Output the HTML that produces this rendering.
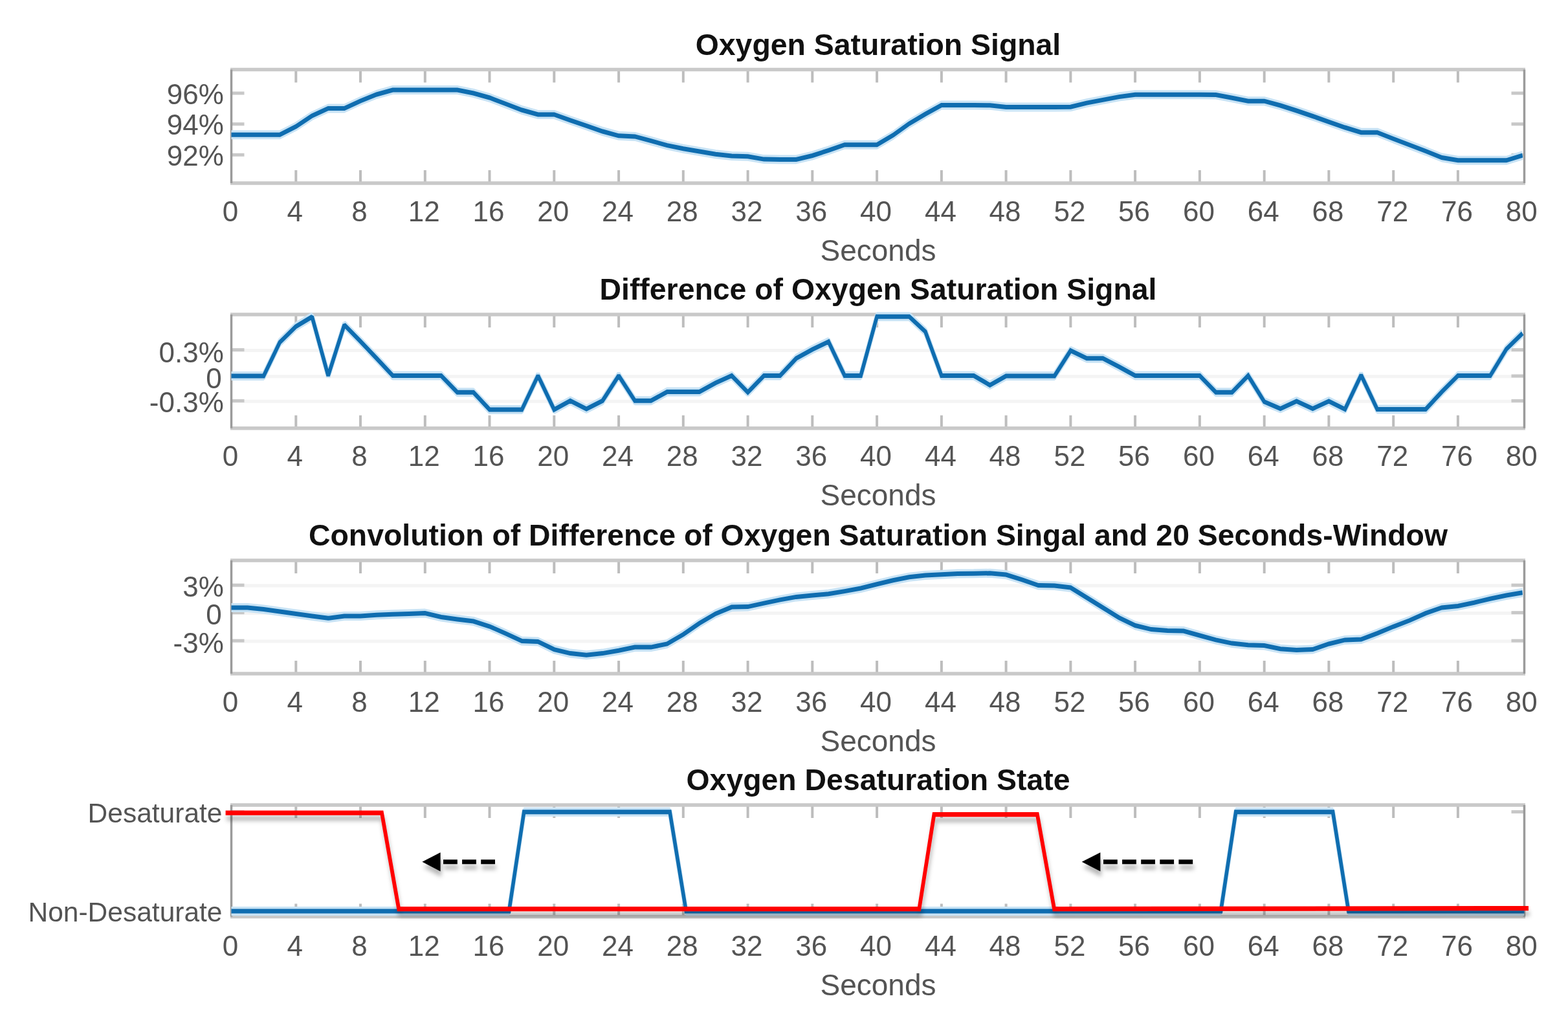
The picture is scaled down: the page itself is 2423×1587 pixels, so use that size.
<!DOCTYPE html>
<html><head><meta charset="utf-8"><title>Oxygen Saturation Signal</title>
<style>
html,body{margin:0;padding:0;background:#fff;width:2423px;height:1587px;overflow:hidden}
svg{display:block}
text{font-family:"Liberation Sans",Arial,Helvetica,sans-serif}
.tl{font-size:44px;fill:#545454}
.xl{font-size:46px;fill:#545454}
.tt{font-size:46.4px;font-weight:bold;fill:#111}
</style></head><body>
<svg width="2423" height="1587" viewBox="0 0 2423 1587">
<defs><clipPath id="c0"><rect x="351.5" y="101.5" width="2010.0" height="187.5"/></clipPath><clipPath id="c1"><rect x="351.5" y="480.0" width="2010.0" height="187.8"/></clipPath><clipPath id="c2"><rect x="351.5" y="860.0" width="2010.0" height="187.0"/></clipPath>
<filter id="sh" x="-10%" y="-50%" width="120%" height="200%"><feDropShadow dx="1.5" dy="8.5" stdDeviation="3.2" flood-color="#000" flood-opacity="0.28"/></filter>
</defs>
<rect width="2423" height="1587" fill="#fff"/>
<text class="tt" x="1357" y="84.9" text-anchor="middle">Oxygen Saturation Signal</text>
<line x1="457.3" y1="283.0" x2="457.3" y2="263.0" stroke="#bdbdbd" stroke-width="4"/>
<line x1="457.3" y1="107.5" x2="457.3" y2="127.5" stroke="#bdbdbd" stroke-width="4"/>
<line x1="557.0" y1="283.0" x2="557.0" y2="263.0" stroke="#bdbdbd" stroke-width="4"/>
<line x1="557.0" y1="107.5" x2="557.0" y2="127.5" stroke="#bdbdbd" stroke-width="4"/>
<line x1="656.8" y1="283.0" x2="656.8" y2="263.0" stroke="#bdbdbd" stroke-width="4"/>
<line x1="656.8" y1="107.5" x2="656.8" y2="127.5" stroke="#bdbdbd" stroke-width="4"/>
<line x1="756.5" y1="283.0" x2="756.5" y2="263.0" stroke="#bdbdbd" stroke-width="4"/>
<line x1="756.5" y1="107.5" x2="756.5" y2="127.5" stroke="#bdbdbd" stroke-width="4"/>
<line x1="856.3" y1="283.0" x2="856.3" y2="263.0" stroke="#bdbdbd" stroke-width="4"/>
<line x1="856.3" y1="107.5" x2="856.3" y2="127.5" stroke="#bdbdbd" stroke-width="4"/>
<line x1="956.1" y1="283.0" x2="956.1" y2="263.0" stroke="#bdbdbd" stroke-width="4"/>
<line x1="956.1" y1="107.5" x2="956.1" y2="127.5" stroke="#bdbdbd" stroke-width="4"/>
<line x1="1055.8" y1="283.0" x2="1055.8" y2="263.0" stroke="#bdbdbd" stroke-width="4"/>
<line x1="1055.8" y1="107.5" x2="1055.8" y2="127.5" stroke="#bdbdbd" stroke-width="4"/>
<line x1="1155.6" y1="283.0" x2="1155.6" y2="263.0" stroke="#bdbdbd" stroke-width="4"/>
<line x1="1155.6" y1="107.5" x2="1155.6" y2="127.5" stroke="#bdbdbd" stroke-width="4"/>
<line x1="1255.3" y1="283.0" x2="1255.3" y2="263.0" stroke="#bdbdbd" stroke-width="4"/>
<line x1="1255.3" y1="107.5" x2="1255.3" y2="127.5" stroke="#bdbdbd" stroke-width="4"/>
<line x1="1355.1" y1="283.0" x2="1355.1" y2="263.0" stroke="#bdbdbd" stroke-width="4"/>
<line x1="1355.1" y1="107.5" x2="1355.1" y2="127.5" stroke="#bdbdbd" stroke-width="4"/>
<line x1="1454.9" y1="283.0" x2="1454.9" y2="263.0" stroke="#bdbdbd" stroke-width="4"/>
<line x1="1454.9" y1="107.5" x2="1454.9" y2="127.5" stroke="#bdbdbd" stroke-width="4"/>
<line x1="1554.6" y1="283.0" x2="1554.6" y2="263.0" stroke="#bdbdbd" stroke-width="4"/>
<line x1="1554.6" y1="107.5" x2="1554.6" y2="127.5" stroke="#bdbdbd" stroke-width="4"/>
<line x1="1654.4" y1="283.0" x2="1654.4" y2="263.0" stroke="#bdbdbd" stroke-width="4"/>
<line x1="1654.4" y1="107.5" x2="1654.4" y2="127.5" stroke="#bdbdbd" stroke-width="4"/>
<line x1="1754.1" y1="283.0" x2="1754.1" y2="263.0" stroke="#bdbdbd" stroke-width="4"/>
<line x1="1754.1" y1="107.5" x2="1754.1" y2="127.5" stroke="#bdbdbd" stroke-width="4"/>
<line x1="1853.9" y1="283.0" x2="1853.9" y2="263.0" stroke="#bdbdbd" stroke-width="4"/>
<line x1="1853.9" y1="107.5" x2="1853.9" y2="127.5" stroke="#bdbdbd" stroke-width="4"/>
<line x1="1953.7" y1="283.0" x2="1953.7" y2="263.0" stroke="#bdbdbd" stroke-width="4"/>
<line x1="1953.7" y1="107.5" x2="1953.7" y2="127.5" stroke="#bdbdbd" stroke-width="4"/>
<line x1="2053.4" y1="283.0" x2="2053.4" y2="263.0" stroke="#bdbdbd" stroke-width="4"/>
<line x1="2053.4" y1="107.5" x2="2053.4" y2="127.5" stroke="#bdbdbd" stroke-width="4"/>
<line x1="2153.2" y1="283.0" x2="2153.2" y2="263.0" stroke="#bdbdbd" stroke-width="4"/>
<line x1="2153.2" y1="107.5" x2="2153.2" y2="127.5" stroke="#bdbdbd" stroke-width="4"/>
<line x1="2252.9" y1="283.0" x2="2252.9" y2="263.0" stroke="#bdbdbd" stroke-width="4"/>
<line x1="2252.9" y1="107.5" x2="2252.9" y2="127.5" stroke="#bdbdbd" stroke-width="4"/>
<line x1="357.5" y1="144.0" x2="377.5" y2="144.0" stroke="#c8c8c8" stroke-width="5"/>
<line x1="2335.5" y1="144.0" x2="2355.5" y2="144.0" stroke="#c8c8c8" stroke-width="5"/>
<line x1="357.5" y1="191.7" x2="377.5" y2="191.7" stroke="#c8c8c8" stroke-width="5"/>
<line x1="2335.5" y1="191.7" x2="2355.5" y2="191.7" stroke="#c8c8c8" stroke-width="5"/>
<line x1="357.5" y1="239.3" x2="377.5" y2="239.3" stroke="#c8c8c8" stroke-width="5"/>
<line x1="2335.5" y1="239.3" x2="2355.5" y2="239.3" stroke="#c8c8c8" stroke-width="5"/>
<line x1="356.0" y1="107.5" x2="2357.0" y2="107.5" stroke="#c9c9c9" stroke-width="5.5"/>
<line x1="356.0" y1="283.0" x2="2357.0" y2="283.0" stroke="#c9c9c9" stroke-width="5.5"/>
<line x1="357.5" y1="107.5" x2="357.5" y2="283.0" stroke="#9b9b9b" stroke-width="3.5"/>
<line x1="2355.5" y1="107.5" x2="2355.5" y2="283.0" stroke="#9b9b9b" stroke-width="3.5"/>
<g clip-path="url(#c0)">
<polyline transform="scale(1,2.0000)" points="357.50,104.10 382.44,104.10 407.38,104.10 432.32,104.10 457.26,97.75 482.20,89.50 507.14,83.75 532.08,83.75 557.02,78.00 581.96,73.00 606.90,69.50 631.84,69.50 656.78,69.50 681.72,69.50 706.66,69.50 731.60,72.00 756.54,75.50 781.48,80.25 806.42,85.00 831.36,88.50 856.30,88.50 881.24,92.90 906.18,97.20 931.12,101.50 956.06,104.90 981.00,105.45 1005.94,108.85 1030.88,112.30 1055.82,114.85 1080.76,117.00 1105.70,119.15 1130.64,120.45 1155.58,120.90 1180.52,123.05 1205.46,123.20 1230.40,123.20 1255.34,120.25 1280.28,116.15 1305.22,111.85 1330.16,111.85 1355.10,111.85 1380.04,104.50 1404.98,95.50 1429.92,88.15 1454.86,81.25 1479.80,81.25 1504.74,81.25 1529.68,81.40 1554.62,82.75 1579.56,82.75 1604.50,82.75 1629.44,82.75 1654.38,82.65 1679.32,79.55 1704.26,77.20 1729.20,74.80 1754.14,73.10 1779.08,73.10 1804.02,73.10 1828.96,73.10 1853.90,73.10 1878.84,73.25 1903.78,75.65 1928.72,78.10 1953.66,78.10 1978.60,81.50 2003.54,85.50 2028.48,89.75 2053.42,94.20 2078.36,98.50 2103.30,102.35 2128.24,102.35 2153.18,107.25 2178.12,112.00 2203.06,116.75 2228.00,121.75 2252.94,123.90 2277.88,123.90 2302.82,123.90 2327.76,123.90 2352.70,120.05" fill="none" stroke="#c8e3f5" stroke-width="7.00" stroke-linejoin="bevel" stroke-miterlimit="1.5"/>
<polyline transform="scale(1,1.2500)" points="357.50,166.56 382.44,166.56 407.38,166.56 432.32,166.56 457.26,156.40 482.20,143.20 507.14,134.00 532.08,134.00 557.02,124.80 581.96,116.80 606.90,111.20 631.84,111.20 656.78,111.20 681.72,111.20 706.66,111.20 731.60,115.20 756.54,120.80 781.48,128.40 806.42,136.00 831.36,141.60 856.30,141.60 881.24,148.64 906.18,155.52 931.12,162.40 956.06,167.84 981.00,168.72 1005.94,174.16 1030.88,179.68 1055.82,183.76 1080.76,187.20 1105.70,190.64 1130.64,192.72 1155.58,193.44 1180.52,196.88 1205.46,197.12 1230.40,197.12 1255.34,192.40 1280.28,185.84 1305.22,178.96 1330.16,178.96 1355.10,178.96 1380.04,167.20 1404.98,152.80 1429.92,141.04 1454.86,130.00 1479.80,130.00 1504.74,130.00 1529.68,130.24 1554.62,132.40 1579.56,132.40 1604.50,132.40 1629.44,132.40 1654.38,132.24 1679.32,127.28 1704.26,123.52 1729.20,119.68 1754.14,116.96 1779.08,116.96 1804.02,116.96 1828.96,116.96 1853.90,116.96 1878.84,117.20 1903.78,121.04 1928.72,124.96 1953.66,124.96 1978.60,130.40 2003.54,136.80 2028.48,143.60 2053.42,150.72 2078.36,157.60 2103.30,163.76 2128.24,163.76 2153.18,171.60 2178.12,179.20 2203.06,186.80 2228.00,194.80 2252.94,198.24 2277.88,198.24 2302.82,198.24 2327.76,198.24 2352.70,192.08" fill="none" stroke="#0f6db0" stroke-width="5.60" stroke-linejoin="miter" stroke-miterlimit="1.5"/>
</g>
<g class="tl" text-anchor="end">
<text x="345.8" y="160.5">96%</text>
<text x="345.8" y="208.2">94%</text>
<text x="345.8" y="255.8">92%</text>
</g>
<g class="tl" text-anchor="middle">
<text x="356.0" y="341.5">0</text>
<text x="455.8" y="341.5">4</text>
<text x="555.5" y="341.5">8</text>
<text x="655.3" y="341.5">12</text>
<text x="755.0" y="341.5">16</text>
<text x="854.8" y="341.5">20</text>
<text x="954.6" y="341.5">24</text>
<text x="1054.3" y="341.5">28</text>
<text x="1154.1" y="341.5">32</text>
<text x="1253.8" y="341.5">36</text>
<text x="1353.6" y="341.5">40</text>
<text x="1453.4" y="341.5">44</text>
<text x="1553.1" y="341.5">48</text>
<text x="1652.9" y="341.5">52</text>
<text x="1752.6" y="341.5">56</text>
<text x="1852.4" y="341.5">60</text>
<text x="1952.2" y="341.5">64</text>
<text x="2051.9" y="341.5">68</text>
<text x="2151.7" y="341.5">72</text>
<text x="2251.4" y="341.5">76</text>
<text x="2351.2" y="341.5">80</text>
</g>
<text class="xl" x="1357" y="402.5" text-anchor="middle">Seconds</text>
<text class="tt" x="1357" y="463.4" text-anchor="middle">Difference of Oxygen Saturation Signal</text>
<line x1="357.5" y1="541.4" x2="2355.5" y2="541.4" stroke="#f4f4f4" stroke-width="5"/>
<line x1="357.5" y1="581.8" x2="2355.5" y2="581.8" stroke="#f4f4f4" stroke-width="5"/>
<line x1="357.5" y1="620.2" x2="2355.5" y2="620.2" stroke="#f4f4f4" stroke-width="5"/>
<line x1="457.3" y1="661.8" x2="457.3" y2="641.8" stroke="#bdbdbd" stroke-width="4"/>
<line x1="457.3" y1="486.0" x2="457.3" y2="506.0" stroke="#bdbdbd" stroke-width="4"/>
<line x1="557.0" y1="661.8" x2="557.0" y2="641.8" stroke="#bdbdbd" stroke-width="4"/>
<line x1="557.0" y1="486.0" x2="557.0" y2="506.0" stroke="#bdbdbd" stroke-width="4"/>
<line x1="656.8" y1="661.8" x2="656.8" y2="641.8" stroke="#bdbdbd" stroke-width="4"/>
<line x1="656.8" y1="486.0" x2="656.8" y2="506.0" stroke="#bdbdbd" stroke-width="4"/>
<line x1="756.5" y1="661.8" x2="756.5" y2="641.8" stroke="#bdbdbd" stroke-width="4"/>
<line x1="756.5" y1="486.0" x2="756.5" y2="506.0" stroke="#bdbdbd" stroke-width="4"/>
<line x1="856.3" y1="661.8" x2="856.3" y2="641.8" stroke="#bdbdbd" stroke-width="4"/>
<line x1="856.3" y1="486.0" x2="856.3" y2="506.0" stroke="#bdbdbd" stroke-width="4"/>
<line x1="956.1" y1="661.8" x2="956.1" y2="641.8" stroke="#bdbdbd" stroke-width="4"/>
<line x1="956.1" y1="486.0" x2="956.1" y2="506.0" stroke="#bdbdbd" stroke-width="4"/>
<line x1="1055.8" y1="661.8" x2="1055.8" y2="641.8" stroke="#bdbdbd" stroke-width="4"/>
<line x1="1055.8" y1="486.0" x2="1055.8" y2="506.0" stroke="#bdbdbd" stroke-width="4"/>
<line x1="1155.6" y1="661.8" x2="1155.6" y2="641.8" stroke="#bdbdbd" stroke-width="4"/>
<line x1="1155.6" y1="486.0" x2="1155.6" y2="506.0" stroke="#bdbdbd" stroke-width="4"/>
<line x1="1255.3" y1="661.8" x2="1255.3" y2="641.8" stroke="#bdbdbd" stroke-width="4"/>
<line x1="1255.3" y1="486.0" x2="1255.3" y2="506.0" stroke="#bdbdbd" stroke-width="4"/>
<line x1="1355.1" y1="661.8" x2="1355.1" y2="641.8" stroke="#bdbdbd" stroke-width="4"/>
<line x1="1355.1" y1="486.0" x2="1355.1" y2="506.0" stroke="#bdbdbd" stroke-width="4"/>
<line x1="1454.9" y1="661.8" x2="1454.9" y2="641.8" stroke="#bdbdbd" stroke-width="4"/>
<line x1="1454.9" y1="486.0" x2="1454.9" y2="506.0" stroke="#bdbdbd" stroke-width="4"/>
<line x1="1554.6" y1="661.8" x2="1554.6" y2="641.8" stroke="#bdbdbd" stroke-width="4"/>
<line x1="1554.6" y1="486.0" x2="1554.6" y2="506.0" stroke="#bdbdbd" stroke-width="4"/>
<line x1="1654.4" y1="661.8" x2="1654.4" y2="641.8" stroke="#bdbdbd" stroke-width="4"/>
<line x1="1654.4" y1="486.0" x2="1654.4" y2="506.0" stroke="#bdbdbd" stroke-width="4"/>
<line x1="1754.1" y1="661.8" x2="1754.1" y2="641.8" stroke="#bdbdbd" stroke-width="4"/>
<line x1="1754.1" y1="486.0" x2="1754.1" y2="506.0" stroke="#bdbdbd" stroke-width="4"/>
<line x1="1853.9" y1="661.8" x2="1853.9" y2="641.8" stroke="#bdbdbd" stroke-width="4"/>
<line x1="1853.9" y1="486.0" x2="1853.9" y2="506.0" stroke="#bdbdbd" stroke-width="4"/>
<line x1="1953.7" y1="661.8" x2="1953.7" y2="641.8" stroke="#bdbdbd" stroke-width="4"/>
<line x1="1953.7" y1="486.0" x2="1953.7" y2="506.0" stroke="#bdbdbd" stroke-width="4"/>
<line x1="2053.4" y1="661.8" x2="2053.4" y2="641.8" stroke="#bdbdbd" stroke-width="4"/>
<line x1="2053.4" y1="486.0" x2="2053.4" y2="506.0" stroke="#bdbdbd" stroke-width="4"/>
<line x1="2153.2" y1="661.8" x2="2153.2" y2="641.8" stroke="#bdbdbd" stroke-width="4"/>
<line x1="2153.2" y1="486.0" x2="2153.2" y2="506.0" stroke="#bdbdbd" stroke-width="4"/>
<line x1="2252.9" y1="661.8" x2="2252.9" y2="641.8" stroke="#bdbdbd" stroke-width="4"/>
<line x1="2252.9" y1="486.0" x2="2252.9" y2="506.0" stroke="#bdbdbd" stroke-width="4"/>
<line x1="357.5" y1="540.6" x2="377.5" y2="540.6" stroke="#c8c8c8" stroke-width="5"/>
<line x1="2335.5" y1="540.6" x2="2355.5" y2="540.6" stroke="#c8c8c8" stroke-width="5"/>
<line x1="357.5" y1="581.0" x2="377.5" y2="581.0" stroke="#c8c8c8" stroke-width="5"/>
<line x1="2335.5" y1="581.0" x2="2355.5" y2="581.0" stroke="#c8c8c8" stroke-width="5"/>
<line x1="357.5" y1="619.4" x2="377.5" y2="619.4" stroke="#c8c8c8" stroke-width="5"/>
<line x1="2335.5" y1="619.4" x2="2355.5" y2="619.4" stroke="#c8c8c8" stroke-width="5"/>
<line x1="356.0" y1="486.0" x2="2357.0" y2="486.0" stroke="#c9c9c9" stroke-width="5.5"/>
<line x1="356.0" y1="661.8" x2="2357.0" y2="661.8" stroke="#c9c9c9" stroke-width="5.5"/>
<line x1="357.5" y1="486.0" x2="357.5" y2="661.8" stroke="#9b9b9b" stroke-width="3.5"/>
<line x1="2355.5" y1="486.0" x2="2355.5" y2="661.8" stroke="#9b9b9b" stroke-width="3.5"/>
<g clip-path="url(#c1)">
<polyline transform="scale(1,2.0000)" points="357.50,290.50 382.44,290.50 407.38,290.50 432.32,264.50 457.26,252.25 482.20,244.75 507.14,290.25 532.08,251.00 557.02,263.75 581.96,276.85 606.90,290.25 631.84,290.25 656.78,290.25 681.72,290.25 706.66,303.15 731.60,303.15 756.54,316.50 781.48,316.50 806.42,316.50 831.36,290.25 856.30,316.50 881.24,309.65 906.18,316.00 931.12,309.65 956.06,290.25 981.00,309.65 1005.94,309.65 1030.88,302.75 1055.82,302.75 1080.76,302.75 1105.70,295.85 1130.64,290.25 1155.58,303.15 1180.52,290.25 1205.46,290.25 1230.40,276.90 1255.34,270.00 1280.28,264.00 1305.22,290.25 1330.16,290.25 1355.10,244.60 1380.04,244.60 1404.98,244.60 1429.92,256.25 1454.86,290.25 1479.80,290.25 1504.74,290.25 1529.68,297.55 1554.62,290.50 1579.56,290.50 1604.50,290.50 1629.44,290.50 1654.38,270.85 1679.32,276.90 1704.26,276.90 1729.20,283.35 1754.14,290.25 1779.08,290.25 1804.02,290.25 1828.96,290.25 1853.90,290.25 1878.84,303.10 1903.78,303.10 1928.72,290.25 1953.66,310.45 1978.60,315.75 2003.54,309.95 2028.48,315.75 2053.42,309.95 2078.36,316.25 2103.30,289.80 2128.24,316.25 2153.18,316.25 2178.12,316.25 2203.06,316.25 2228.00,302.75 2252.94,290.25 2277.88,290.25 2302.82,290.25 2327.76,269.75 2352.70,257.50" fill="none" stroke="#c8e3f5" stroke-width="7.00" stroke-linejoin="bevel" stroke-miterlimit="1.5"/>
<polyline transform="scale(1,1.2500)" points="357.50,464.80 382.44,464.80 407.38,464.80 432.32,423.20 457.26,403.60 482.20,391.60 507.14,464.40 532.08,401.60 557.02,422.00 581.96,442.96 606.90,464.40 631.84,464.40 656.78,464.40 681.72,464.40 706.66,485.04 731.60,485.04 756.54,506.40 781.48,506.40 806.42,506.40 831.36,464.40 856.30,506.40 881.24,495.44 906.18,505.60 931.12,495.44 956.06,464.40 981.00,495.44 1005.94,495.44 1030.88,484.40 1055.82,484.40 1080.76,484.40 1105.70,473.36 1130.64,464.40 1155.58,485.04 1180.52,464.40 1205.46,464.40 1230.40,443.04 1255.34,432.00 1280.28,422.40 1305.22,464.40 1330.16,464.40 1355.10,391.36 1380.04,391.36 1404.98,391.36 1429.92,410.00 1454.86,464.40 1479.80,464.40 1504.74,464.40 1529.68,476.08 1554.62,464.80 1579.56,464.80 1604.50,464.80 1629.44,464.80 1654.38,433.36 1679.32,443.04 1704.26,443.04 1729.20,453.36 1754.14,464.40 1779.08,464.40 1804.02,464.40 1828.96,464.40 1853.90,464.40 1878.84,484.96 1903.78,484.96 1928.72,464.40 1953.66,496.72 1978.60,505.20 2003.54,495.92 2028.48,505.20 2053.42,495.92 2078.36,506.00 2103.30,463.68 2128.24,506.00 2153.18,506.00 2178.12,506.00 2203.06,506.00 2228.00,484.40 2252.94,464.40 2277.88,464.40 2302.82,464.40 2327.76,431.60 2352.70,412.00" fill="none" stroke="#0f6db0" stroke-width="5.60" stroke-linejoin="miter" stroke-miterlimit="1.5"/>
</g>
<g class="tl" text-anchor="end">
<text x="345.8" y="559.5">0.3%</text>
<text x="342.8" y="599.5">0</text>
<text x="345.8" y="636.5">-0.3%</text>
</g>
<g class="tl" text-anchor="middle">
<text x="356.0" y="720.3">0</text>
<text x="455.8" y="720.3">4</text>
<text x="555.5" y="720.3">8</text>
<text x="655.3" y="720.3">12</text>
<text x="755.0" y="720.3">16</text>
<text x="854.8" y="720.3">20</text>
<text x="954.6" y="720.3">24</text>
<text x="1054.3" y="720.3">28</text>
<text x="1154.1" y="720.3">32</text>
<text x="1253.8" y="720.3">36</text>
<text x="1353.6" y="720.3">40</text>
<text x="1453.4" y="720.3">44</text>
<text x="1553.1" y="720.3">48</text>
<text x="1652.9" y="720.3">52</text>
<text x="1752.6" y="720.3">56</text>
<text x="1852.4" y="720.3">60</text>
<text x="1952.2" y="720.3">64</text>
<text x="2051.9" y="720.3">68</text>
<text x="2151.7" y="720.3">72</text>
<text x="2251.4" y="720.3">76</text>
<text x="2351.2" y="720.3">80</text>
</g>
<text class="xl" x="1357" y="781.3" text-anchor="middle">Seconds</text>
<text class="tt" x="1357" y="843.4" text-anchor="middle">Convolution of Difference of Oxygen Saturation Singal and 20 Seconds-Window</text>
<line x1="357.5" y1="905.0" x2="2355.5" y2="905.0" stroke="#f4f4f4" stroke-width="5"/>
<line x1="357.5" y1="947.5" x2="2355.5" y2="947.5" stroke="#f4f4f4" stroke-width="5"/>
<line x1="357.5" y1="990.9" x2="2355.5" y2="990.9" stroke="#f4f4f4" stroke-width="5"/>
<line x1="457.3" y1="1041.0" x2="457.3" y2="1021.0" stroke="#bdbdbd" stroke-width="4"/>
<line x1="457.3" y1="866.0" x2="457.3" y2="886.0" stroke="#bdbdbd" stroke-width="4"/>
<line x1="557.0" y1="1041.0" x2="557.0" y2="1021.0" stroke="#bdbdbd" stroke-width="4"/>
<line x1="557.0" y1="866.0" x2="557.0" y2="886.0" stroke="#bdbdbd" stroke-width="4"/>
<line x1="656.8" y1="1041.0" x2="656.8" y2="1021.0" stroke="#bdbdbd" stroke-width="4"/>
<line x1="656.8" y1="866.0" x2="656.8" y2="886.0" stroke="#bdbdbd" stroke-width="4"/>
<line x1="756.5" y1="1041.0" x2="756.5" y2="1021.0" stroke="#bdbdbd" stroke-width="4"/>
<line x1="756.5" y1="866.0" x2="756.5" y2="886.0" stroke="#bdbdbd" stroke-width="4"/>
<line x1="856.3" y1="1041.0" x2="856.3" y2="1021.0" stroke="#bdbdbd" stroke-width="4"/>
<line x1="856.3" y1="866.0" x2="856.3" y2="886.0" stroke="#bdbdbd" stroke-width="4"/>
<line x1="956.1" y1="1041.0" x2="956.1" y2="1021.0" stroke="#bdbdbd" stroke-width="4"/>
<line x1="956.1" y1="866.0" x2="956.1" y2="886.0" stroke="#bdbdbd" stroke-width="4"/>
<line x1="1055.8" y1="1041.0" x2="1055.8" y2="1021.0" stroke="#bdbdbd" stroke-width="4"/>
<line x1="1055.8" y1="866.0" x2="1055.8" y2="886.0" stroke="#bdbdbd" stroke-width="4"/>
<line x1="1155.6" y1="1041.0" x2="1155.6" y2="1021.0" stroke="#bdbdbd" stroke-width="4"/>
<line x1="1155.6" y1="866.0" x2="1155.6" y2="886.0" stroke="#bdbdbd" stroke-width="4"/>
<line x1="1255.3" y1="1041.0" x2="1255.3" y2="1021.0" stroke="#bdbdbd" stroke-width="4"/>
<line x1="1255.3" y1="866.0" x2="1255.3" y2="886.0" stroke="#bdbdbd" stroke-width="4"/>
<line x1="1355.1" y1="1041.0" x2="1355.1" y2="1021.0" stroke="#bdbdbd" stroke-width="4"/>
<line x1="1355.1" y1="866.0" x2="1355.1" y2="886.0" stroke="#bdbdbd" stroke-width="4"/>
<line x1="1454.9" y1="1041.0" x2="1454.9" y2="1021.0" stroke="#bdbdbd" stroke-width="4"/>
<line x1="1454.9" y1="866.0" x2="1454.9" y2="886.0" stroke="#bdbdbd" stroke-width="4"/>
<line x1="1554.6" y1="1041.0" x2="1554.6" y2="1021.0" stroke="#bdbdbd" stroke-width="4"/>
<line x1="1554.6" y1="866.0" x2="1554.6" y2="886.0" stroke="#bdbdbd" stroke-width="4"/>
<line x1="1654.4" y1="1041.0" x2="1654.4" y2="1021.0" stroke="#bdbdbd" stroke-width="4"/>
<line x1="1654.4" y1="866.0" x2="1654.4" y2="886.0" stroke="#bdbdbd" stroke-width="4"/>
<line x1="1754.1" y1="1041.0" x2="1754.1" y2="1021.0" stroke="#bdbdbd" stroke-width="4"/>
<line x1="1754.1" y1="866.0" x2="1754.1" y2="886.0" stroke="#bdbdbd" stroke-width="4"/>
<line x1="1853.9" y1="1041.0" x2="1853.9" y2="1021.0" stroke="#bdbdbd" stroke-width="4"/>
<line x1="1853.9" y1="866.0" x2="1853.9" y2="886.0" stroke="#bdbdbd" stroke-width="4"/>
<line x1="1953.7" y1="1041.0" x2="1953.7" y2="1021.0" stroke="#bdbdbd" stroke-width="4"/>
<line x1="1953.7" y1="866.0" x2="1953.7" y2="886.0" stroke="#bdbdbd" stroke-width="4"/>
<line x1="2053.4" y1="1041.0" x2="2053.4" y2="1021.0" stroke="#bdbdbd" stroke-width="4"/>
<line x1="2053.4" y1="866.0" x2="2053.4" y2="886.0" stroke="#bdbdbd" stroke-width="4"/>
<line x1="2153.2" y1="1041.0" x2="2153.2" y2="1021.0" stroke="#bdbdbd" stroke-width="4"/>
<line x1="2153.2" y1="866.0" x2="2153.2" y2="886.0" stroke="#bdbdbd" stroke-width="4"/>
<line x1="2252.9" y1="1041.0" x2="2252.9" y2="1021.0" stroke="#bdbdbd" stroke-width="4"/>
<line x1="2252.9" y1="866.0" x2="2252.9" y2="886.0" stroke="#bdbdbd" stroke-width="4"/>
<line x1="357.5" y1="904.2" x2="377.5" y2="904.2" stroke="#c8c8c8" stroke-width="5"/>
<line x1="2335.5" y1="904.2" x2="2355.5" y2="904.2" stroke="#c8c8c8" stroke-width="5"/>
<line x1="357.5" y1="946.7" x2="377.5" y2="946.7" stroke="#c8c8c8" stroke-width="5"/>
<line x1="2335.5" y1="946.7" x2="2355.5" y2="946.7" stroke="#c8c8c8" stroke-width="5"/>
<line x1="357.5" y1="990.1" x2="377.5" y2="990.1" stroke="#c8c8c8" stroke-width="5"/>
<line x1="2335.5" y1="990.1" x2="2355.5" y2="990.1" stroke="#c8c8c8" stroke-width="5"/>
<line x1="356.0" y1="866.0" x2="2357.0" y2="866.0" stroke="#c9c9c9" stroke-width="5.5"/>
<line x1="356.0" y1="1041.0" x2="2357.0" y2="1041.0" stroke="#c9c9c9" stroke-width="5.5"/>
<line x1="357.5" y1="866.0" x2="357.5" y2="1041.0" stroke="#9b9b9b" stroke-width="3.5"/>
<line x1="2355.5" y1="866.0" x2="2355.5" y2="1041.0" stroke="#9b9b9b" stroke-width="3.5"/>
<g clip-path="url(#c2)">
<polyline transform="scale(1,2.0000)" points="357.50,469.50 382.44,469.50 407.38,470.75 432.32,472.50 457.26,474.25 482.20,476.00 507.14,477.65 532.08,475.95 557.02,475.95 581.96,475.10 606.90,474.65 631.84,474.20 656.78,473.80 681.72,476.75 706.66,478.50 731.60,480.00 756.54,484.00 781.48,489.50 806.42,495.30 831.36,495.75 856.30,501.80 881.24,504.80 906.18,506.10 931.12,504.80 956.06,502.65 981.00,500.05 1005.94,500.05 1030.88,497.50 1055.82,490.15 1080.76,481.55 1105.70,474.20 1130.64,469.05 1155.58,468.80 1180.52,466.05 1205.46,463.45 1230.40,461.20 1255.34,460.00 1280.28,458.90 1305.22,456.80 1330.16,454.50 1355.10,451.35 1380.04,448.40 1404.98,445.90 1429.92,444.50 1454.86,443.90 1479.80,443.25 1504.74,443.10 1529.68,442.90 1554.62,444.00 1579.56,447.95 1604.50,452.25 1629.44,452.45 1654.38,454.00 1679.32,461.75 1704.26,469.50 1729.20,477.25 1754.14,483.25 1779.08,486.30 1804.02,487.25 1828.96,487.50 1853.90,491.00 1878.84,494.45 1903.78,497.05 1928.72,498.35 1953.66,498.75 1978.60,501.35 2003.54,502.20 2028.48,501.80 2053.42,497.50 2078.36,494.45 2103.30,494.05 2128.24,489.30 2153.18,484.15 2178.12,479.40 2203.06,473.80 2228.00,469.50 2252.94,468.20 2277.88,465.60 2302.82,462.60 2327.76,460.00 2352.70,457.85" fill="none" stroke="#c8e3f5" stroke-width="7.00" stroke-linejoin="bevel" stroke-miterlimit="1.5"/>
<polyline transform="scale(1,1.2500)" points="357.50,751.20 382.44,751.20 407.38,753.20 432.32,756.00 457.26,758.80 482.20,761.60 507.14,764.24 532.08,761.52 557.02,761.52 581.96,760.16 606.90,759.44 631.84,758.72 656.78,758.08 681.72,762.80 706.66,765.60 731.60,768.00 756.54,774.40 781.48,783.20 806.42,792.48 831.36,793.20 856.30,802.88 881.24,807.68 906.18,809.76 931.12,807.68 956.06,804.24 981.00,800.08 1005.94,800.08 1030.88,796.00 1055.82,784.24 1080.76,770.48 1105.70,758.72 1130.64,750.48 1155.58,750.08 1180.52,745.68 1205.46,741.52 1230.40,737.92 1255.34,736.00 1280.28,734.24 1305.22,730.88 1330.16,727.20 1355.10,722.16 1380.04,717.44 1404.98,713.44 1429.92,711.20 1454.86,710.24 1479.80,709.20 1504.74,708.96 1529.68,708.64 1554.62,710.40 1579.56,716.72 1604.50,723.60 1629.44,723.92 1654.38,726.40 1679.32,738.80 1704.26,751.20 1729.20,763.60 1754.14,773.20 1779.08,778.08 1804.02,779.60 1828.96,780.00 1853.90,785.60 1878.84,791.12 1903.78,795.28 1928.72,797.36 1953.66,798.00 1978.60,802.16 2003.54,803.52 2028.48,802.88 2053.42,796.00 2078.36,791.12 2103.30,790.48 2128.24,782.88 2153.18,774.64 2178.12,767.04 2203.06,758.08 2228.00,751.20 2252.94,749.12 2277.88,744.96 2302.82,740.16 2327.76,736.00 2352.70,732.56" fill="none" stroke="#0f6db0" stroke-width="5.60" stroke-linejoin="miter" stroke-miterlimit="1.5"/>
</g>
<g class="tl" text-anchor="end">
<text x="345.8" y="922.0">3%</text>
<text x="342.8" y="965.0">0</text>
<text x="345.8" y="1009.0">-3%</text>
</g>
<g class="tl" text-anchor="middle">
<text x="356.0" y="1099.5">0</text>
<text x="455.8" y="1099.5">4</text>
<text x="555.5" y="1099.5">8</text>
<text x="655.3" y="1099.5">12</text>
<text x="755.0" y="1099.5">16</text>
<text x="854.8" y="1099.5">20</text>
<text x="954.6" y="1099.5">24</text>
<text x="1054.3" y="1099.5">28</text>
<text x="1154.1" y="1099.5">32</text>
<text x="1253.8" y="1099.5">36</text>
<text x="1353.6" y="1099.5">40</text>
<text x="1453.4" y="1099.5">44</text>
<text x="1553.1" y="1099.5">48</text>
<text x="1652.9" y="1099.5">52</text>
<text x="1752.6" y="1099.5">56</text>
<text x="1852.4" y="1099.5">60</text>
<text x="1952.2" y="1099.5">64</text>
<text x="2051.9" y="1099.5">68</text>
<text x="2151.7" y="1099.5">72</text>
<text x="2251.4" y="1099.5">76</text>
<text x="2351.2" y="1099.5">80</text>
</g>
<text class="xl" x="1357" y="1160.5" text-anchor="middle">Seconds</text>
<text class="tt" x="1357" y="1221.4" text-anchor="middle">Oxygen Desaturation State</text>
<line x1="457.3" y1="1416.5" x2="457.3" y2="1396.5" stroke="#bdbdbd" stroke-width="4"/>
<line x1="457.3" y1="1244.0" x2="457.3" y2="1264.0" stroke="#bdbdbd" stroke-width="4"/>
<line x1="557.0" y1="1416.5" x2="557.0" y2="1396.5" stroke="#bdbdbd" stroke-width="4"/>
<line x1="557.0" y1="1244.0" x2="557.0" y2="1264.0" stroke="#bdbdbd" stroke-width="4"/>
<line x1="656.8" y1="1416.5" x2="656.8" y2="1396.5" stroke="#bdbdbd" stroke-width="4"/>
<line x1="656.8" y1="1244.0" x2="656.8" y2="1264.0" stroke="#bdbdbd" stroke-width="4"/>
<line x1="756.5" y1="1416.5" x2="756.5" y2="1396.5" stroke="#bdbdbd" stroke-width="4"/>
<line x1="756.5" y1="1244.0" x2="756.5" y2="1264.0" stroke="#bdbdbd" stroke-width="4"/>
<line x1="856.3" y1="1416.5" x2="856.3" y2="1396.5" stroke="#bdbdbd" stroke-width="4"/>
<line x1="856.3" y1="1244.0" x2="856.3" y2="1264.0" stroke="#bdbdbd" stroke-width="4"/>
<line x1="956.1" y1="1416.5" x2="956.1" y2="1396.5" stroke="#bdbdbd" stroke-width="4"/>
<line x1="956.1" y1="1244.0" x2="956.1" y2="1264.0" stroke="#bdbdbd" stroke-width="4"/>
<line x1="1055.8" y1="1416.5" x2="1055.8" y2="1396.5" stroke="#bdbdbd" stroke-width="4"/>
<line x1="1055.8" y1="1244.0" x2="1055.8" y2="1264.0" stroke="#bdbdbd" stroke-width="4"/>
<line x1="1155.6" y1="1416.5" x2="1155.6" y2="1396.5" stroke="#bdbdbd" stroke-width="4"/>
<line x1="1155.6" y1="1244.0" x2="1155.6" y2="1264.0" stroke="#bdbdbd" stroke-width="4"/>
<line x1="1255.3" y1="1416.5" x2="1255.3" y2="1396.5" stroke="#bdbdbd" stroke-width="4"/>
<line x1="1255.3" y1="1244.0" x2="1255.3" y2="1264.0" stroke="#bdbdbd" stroke-width="4"/>
<line x1="1355.1" y1="1416.5" x2="1355.1" y2="1396.5" stroke="#bdbdbd" stroke-width="4"/>
<line x1="1355.1" y1="1244.0" x2="1355.1" y2="1264.0" stroke="#bdbdbd" stroke-width="4"/>
<line x1="1454.9" y1="1416.5" x2="1454.9" y2="1396.5" stroke="#bdbdbd" stroke-width="4"/>
<line x1="1454.9" y1="1244.0" x2="1454.9" y2="1264.0" stroke="#bdbdbd" stroke-width="4"/>
<line x1="1554.6" y1="1416.5" x2="1554.6" y2="1396.5" stroke="#bdbdbd" stroke-width="4"/>
<line x1="1554.6" y1="1244.0" x2="1554.6" y2="1264.0" stroke="#bdbdbd" stroke-width="4"/>
<line x1="1654.4" y1="1416.5" x2="1654.4" y2="1396.5" stroke="#bdbdbd" stroke-width="4"/>
<line x1="1654.4" y1="1244.0" x2="1654.4" y2="1264.0" stroke="#bdbdbd" stroke-width="4"/>
<line x1="1754.1" y1="1416.5" x2="1754.1" y2="1396.5" stroke="#bdbdbd" stroke-width="4"/>
<line x1="1754.1" y1="1244.0" x2="1754.1" y2="1264.0" stroke="#bdbdbd" stroke-width="4"/>
<line x1="1853.9" y1="1416.5" x2="1853.9" y2="1396.5" stroke="#bdbdbd" stroke-width="4"/>
<line x1="1853.9" y1="1244.0" x2="1853.9" y2="1264.0" stroke="#bdbdbd" stroke-width="4"/>
<line x1="1953.7" y1="1416.5" x2="1953.7" y2="1396.5" stroke="#bdbdbd" stroke-width="4"/>
<line x1="1953.7" y1="1244.0" x2="1953.7" y2="1264.0" stroke="#bdbdbd" stroke-width="4"/>
<line x1="2053.4" y1="1416.5" x2="2053.4" y2="1396.5" stroke="#bdbdbd" stroke-width="4"/>
<line x1="2053.4" y1="1244.0" x2="2053.4" y2="1264.0" stroke="#bdbdbd" stroke-width="4"/>
<line x1="2153.2" y1="1416.5" x2="2153.2" y2="1396.5" stroke="#bdbdbd" stroke-width="4"/>
<line x1="2153.2" y1="1244.0" x2="2153.2" y2="1264.0" stroke="#bdbdbd" stroke-width="4"/>
<line x1="2252.9" y1="1416.5" x2="2252.9" y2="1396.5" stroke="#bdbdbd" stroke-width="4"/>
<line x1="2252.9" y1="1244.0" x2="2252.9" y2="1264.0" stroke="#bdbdbd" stroke-width="4"/>
<line x1="357.5" y1="1254.5" x2="377.5" y2="1254.5" stroke="#c8c8c8" stroke-width="5"/>
<line x1="2335.5" y1="1254.5" x2="2355.5" y2="1254.5" stroke="#c8c8c8" stroke-width="5"/>
<line x1="357.5" y1="1408.0" x2="377.5" y2="1408.0" stroke="#c8c8c8" stroke-width="5"/>
<line x1="2335.5" y1="1408.0" x2="2355.5" y2="1408.0" stroke="#c8c8c8" stroke-width="5"/>
<line x1="356.0" y1="1244.0" x2="2357.0" y2="1244.0" stroke="#c9c9c9" stroke-width="5.5"/>
<line x1="356.0" y1="1416.5" x2="2357.0" y2="1416.5" stroke="#c9c9c9" stroke-width="5.5"/>
<line x1="357.5" y1="1244.0" x2="357.5" y2="1416.5" stroke="#9b9b9b" stroke-width="3.5"/>
<line x1="2355.5" y1="1244.0" x2="2355.5" y2="1416.5" stroke="#9b9b9b" stroke-width="3.5"/>
<polyline transform="scale(1,2.0000)" points="357.50,703.95 786.60,703.95 809.70,627.40 1035.10,627.40 1060.20,703.95 1886.50,703.95 1909.70,627.40 2059.60,627.40 2083.90,703.95 2355.50,703.95" fill="none" stroke="#c8e3f5" stroke-width="7.00" stroke-linejoin="bevel" stroke-miterlimit="1.5"/>
<polyline transform="scale(1,1.2500)" points="357.50,1126.32 786.60,1126.32 809.70,1003.84 1035.10,1003.84 1060.20,1126.32 1886.50,1126.32 1909.70,1003.84 2059.60,1003.84 2083.90,1126.32 2355.50,1126.32" fill="none" stroke="#0f6db0" stroke-width="5.60" stroke-linejoin="miter" stroke-miterlimit="1.5"/>
<g filter="url(#sh)">
<polyline transform="scale(1,1.2500)" points="348.60,1004.96 590.00,1004.96 616.20,1123.68 1420.40,1123.68 1443.40,1006.80 1602.90,1006.80 1629.10,1123.68 2362.00,1122.88" fill="none" stroke="#ff0000" stroke-width="5.80" stroke-linejoin="miter" stroke-miterlimit="1.5"/>
</g>
<g filter="url(#sh)"><polygon points="652.4,1331.8 680.6,1317.2 680.6,1346.4" fill="#000"/><rect x="685.0" y="1328.3" width="21.8" height="7" fill="#000"/><rect x="714.1" y="1328.3" width="21.8" height="7" fill="#000"/><rect x="743.2" y="1328.3" width="21.8" height="7" fill="#000"/></g>
<g filter="url(#sh)"><polygon points="1671.7,1331.8 1700.4,1317.2 1700.4,1346.4" fill="#000"/><rect x="1705.0" y="1328.3" width="21.8" height="7" fill="#000"/><rect x="1734.1" y="1328.3" width="21.8" height="7" fill="#000"/><rect x="1763.2" y="1328.3" width="21.8" height="7" fill="#000"/><rect x="1792.3" y="1328.3" width="21.8" height="7" fill="#000"/><rect x="1821.4" y="1328.3" width="21.8" height="7" fill="#000"/></g>
<g class="tl" text-anchor="end">
<text x="343.5" y="1271.0" style="font-size:42.5px">Desaturate</text>
<text x="343.5" y="1424.0" style="font-size:42.5px">Non-Desaturate</text>
</g>
<g class="tl" text-anchor="middle">
<text x="356.0" y="1476.6">0</text>
<text x="455.8" y="1476.6">4</text>
<text x="555.5" y="1476.6">8</text>
<text x="655.3" y="1476.6">12</text>
<text x="755.0" y="1476.6">16</text>
<text x="854.8" y="1476.6">20</text>
<text x="954.6" y="1476.6">24</text>
<text x="1054.3" y="1476.6">28</text>
<text x="1154.1" y="1476.6">32</text>
<text x="1253.8" y="1476.6">36</text>
<text x="1353.6" y="1476.6">40</text>
<text x="1453.4" y="1476.6">44</text>
<text x="1553.1" y="1476.6">48</text>
<text x="1652.9" y="1476.6">52</text>
<text x="1752.6" y="1476.6">56</text>
<text x="1852.4" y="1476.6">60</text>
<text x="1952.2" y="1476.6">64</text>
<text x="2051.9" y="1476.6">68</text>
<text x="2151.7" y="1476.6">72</text>
<text x="2251.4" y="1476.6">76</text>
<text x="2351.2" y="1476.6">80</text>
</g>
<text class="xl" x="1357" y="1537.6" text-anchor="middle">Seconds</text>
</svg>
</body></html>
